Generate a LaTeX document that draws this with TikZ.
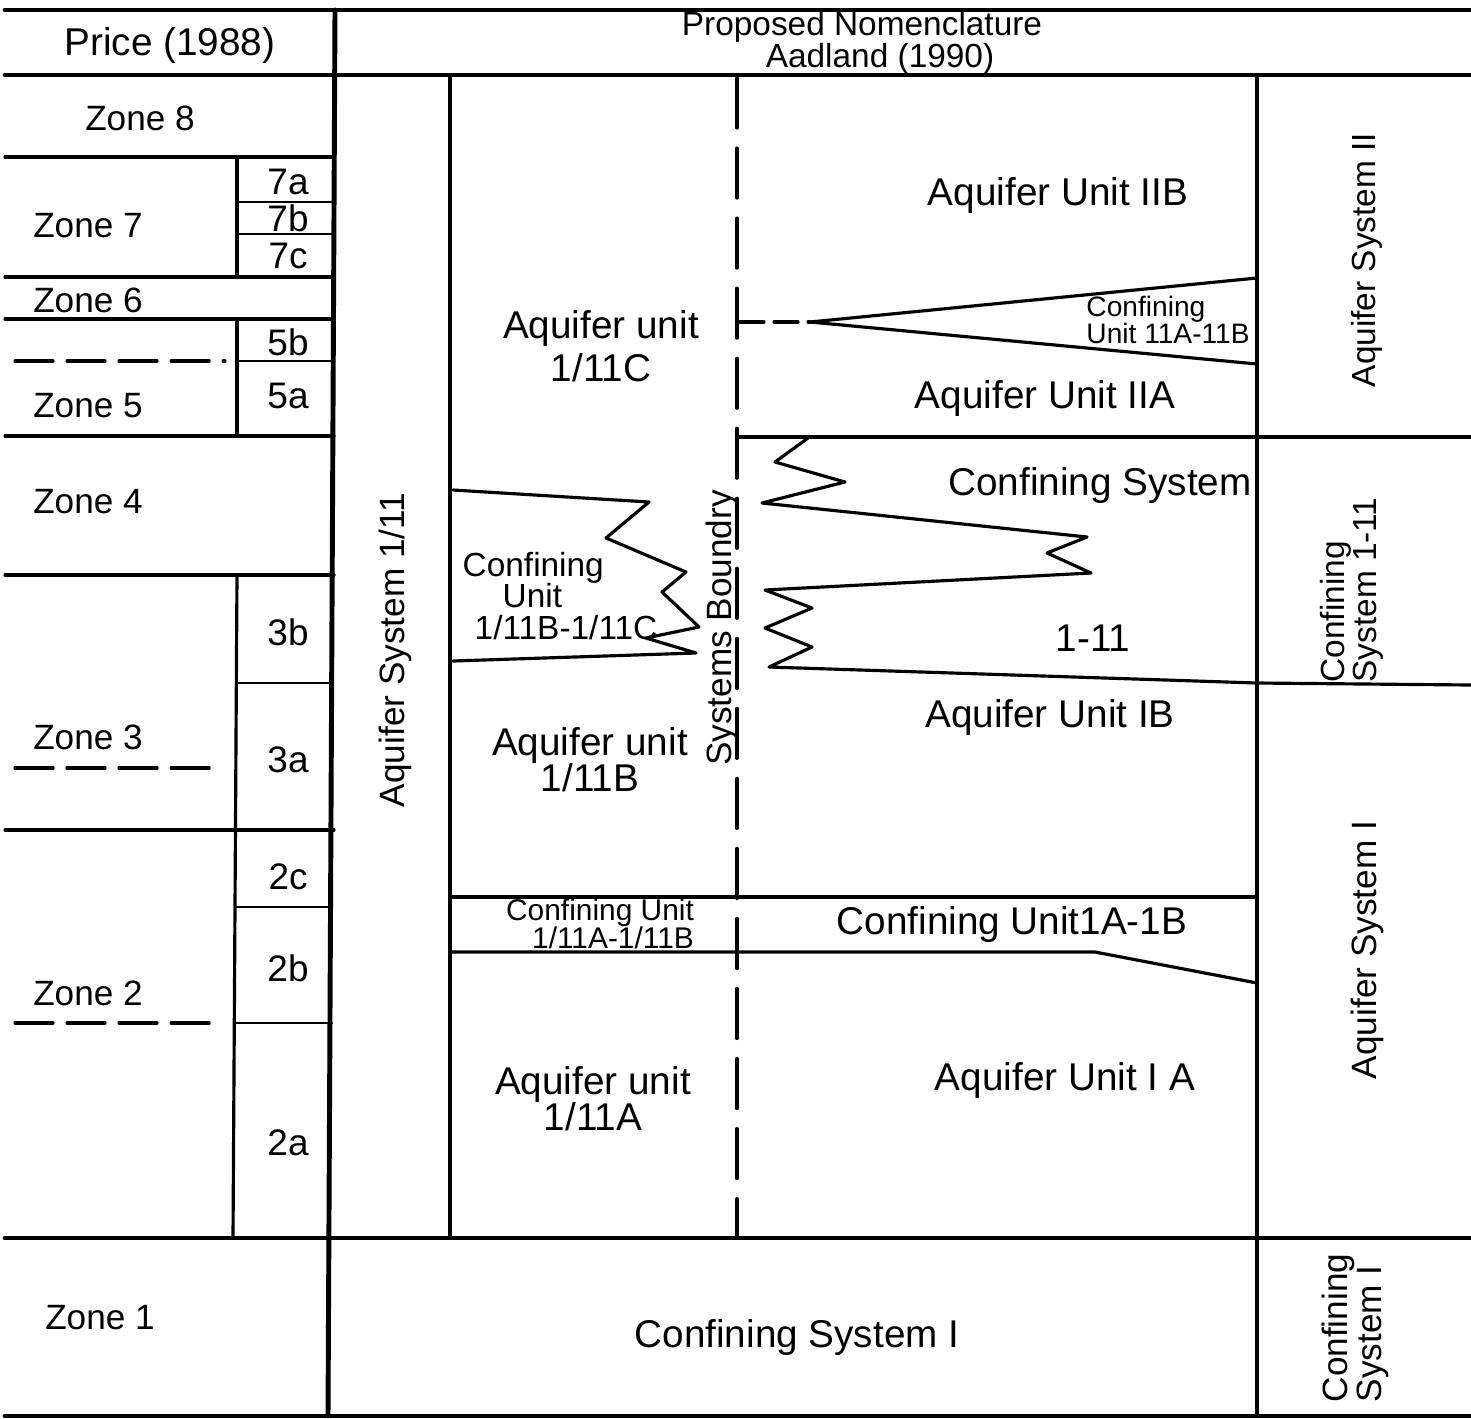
\documentclass[tikz,border=0pt]{standalone}
\usepackage{fontspec}
\setmainfont{Liberation Sans}
\newcommand\tightlines{\lineskiplimit-20pt\relax}

\begin{document}
\begin{tikzpicture}[x=0.01cm,y=-0.01cm,line cap=round,line join=round]
\tikzstyle{frame}=[line width=1.4pt]
\tikzstyle{rule}=[line width=0.9pt]
\tikzstyle{thin}=[line width=0.6pt]
\tikzstyle{zone}=[inner sep=0pt,font=\fontsize{10}{10}\selectfont]
\tikzstyle{sub}=[inner sep=0pt,font=\fontsize{10.5}{10}\selectfont]
\tikzstyle{unit}=[inner sep=0pt,align=center,font=\fontsize{11}{10.3}\selectfont\tightlines]
\tikzstyle{tiny}=[inner sep=0pt,align=left,font=\fontsize{8}{7.7}\selectfont\tightlines]
\tikzstyle{vert}=[inner sep=0pt,rotate=90,align=left,font=\fontsize{10}{9.4}\selectfont\tightlines]
\useasboundingbox (0,0) rectangle (1471,1418);
% frame
\draw[frame] (5,10) -- (1471,10);
\draw[frame] (5,75) -- (1471,75);
\draw[frame] (5,1238) -- (1471,1238);
\draw[frame] (5,1416) -- (1471,1416);
\draw[frame] (335,10) -- (328,1416);
% Price (1988) column
\foreach \y in {157,277,319,436,575,830} \draw[rule] (5,\y) -- (334,\y);
\draw[rule] (237,157) -- (237,277);
\draw[rule] (237,319) -- (237,436);
\draw[rule] (237,575) -- (233,1238);
\foreach \y in {202,234,361,683,907,1023} \draw[thin] (236,\y) -- (332,\y);
\foreach \y/\e in {361/225,768/222,1023/222} \draw[rule,dash pattern=on 0.38cm off 0.14cm] (15,\y) -- (\e,\y);
\node[zone,font=\fontsize{11}{11}\selectfont] (price) at (170,45) {Price (1988)};
\foreach \n/\x/\y in {8/140/118,7/88/226,6/88/300,5/88/406,4/88/502,3/88/737,2/88/993,1/100/1318}
  \node[zone] (zone\n) at (\x,\y) {Zone \n};
\foreach \n/\y in {7a/182,7b/218,7c/256,5b/342,5a/396,3b/632,3a/760,2c/877,2b/968,2a/1143}
  \node[sub] (sub\n) at (288,\y) {\n};
% Aadland (1990) columns
\node[unit,font=\fontsize{9.5}{9}\selectfont\tightlines] (aadland) at (862,43) {Proposed Nomenclature\\\hspace*{0.36cm}Aadland (1990)};
\draw[rule] (450,75) -- (450,1238);
\draw[rule] (1257,75) -- (1257,1416);
\draw[rule,dash pattern=on 0.5cm off 0.2cm] (737,78) -- (737,1238);
\draw[rule] (737,437) -- (1471,437);
\draw[rule,dash pattern=on 0.24cm off 0.1cm] (740,322) -- (810,322);
\draw[rule] (1257,278) -- (810,322) -- (1257,364);
\draw[rule] (808,438) -- (775,462) -- (845,482) -- (762,503) -- (1087,537) -- (1047,553) -- (1091,573)
  -- (765,590) -- (812,608) -- (765,628) -- (812,647) -- (769,667) -- (1257,683) -- (1471,685);
\draw[rule] (453,490) -- (649,502) -- (606,538) -- (686,572) -- (662,592) -- (699,627) -- (646,638)
  -- (696,653) -- (453,661);
\draw[rule] (450,897) -- (1257,897);
\draw[rule] (450,952) -- (1095,952) -- (1257,983);
\node[vert,font=\fontsize{10}{8.5}\selectfont] (aqsys11) at (395,650) {Aquifer System 1/11};
\node[vert] (bound) at (722,628) {Systems Boundry};
\node[unit] (uIIB) at (1058,195) {Aquifer Unit IIB};
\node[unit] (u11C) at (601,346) {Aquifer unit\\[0.07cm]1/11C};
\node[tiny] (c11A11B) at (1168,320) {Confining\\Unit 11A-11B};
\node[unit] (uIIA) at (1045,398) {Aquifer Unit IIA};
\node[unit] (csys) at (1100,485) {Confining System};
\node[unit] (c111) at (1093,638) {1-11};
\node[unit,align=left,font=\fontsize{9.5}{9}\selectfont\tightlines] (c11B11C) at (560,596) {Confining\\\hspace*{0.4cm}Unit\\\hspace*{0.12cm}1/11B-1/11C};
\node[unit] (uIB) at (1050,717) {Aquifer Unit IB};
\node[unit] (u11B) at (590,760) {Aquifer unit\\1/11B};
\node[tiny,align=right,font=\fontsize{8.5}{8}\selectfont\tightlines] (c11A11B2) at (600,924) {Confining Unit\\1/11A-1/11B};
\node[unit] (c1A1B) at (1012,924) {Confining Unit1A-1B};
\node[unit] (u11A) at (593,1099) {Aquifer unit\\1/11A};
\node[unit] (uIA) at (1065,1080) {Aquifer Unit I A};
\node[unit] (csysI) at (797,1337) {Confining System I};
\node[vert,font=\fontsize{9.5}{8.5}\selectfont] (aqII) at (1367,260) {Aquifer System II};
\node[vert,font=\fontsize{9.5}{9}\selectfont\tightlines] (conf111) at (1352,590) {Confining\\System 1-11};
\node[vert] (aqI) at (1367,950) {Aquifer System I};
\node[vert,font=\fontsize{10}{9.6}\selectfont\tightlines] (confI) at (1355,1328) {Confining\\System I};
\end{tikzpicture}
\end{document}
